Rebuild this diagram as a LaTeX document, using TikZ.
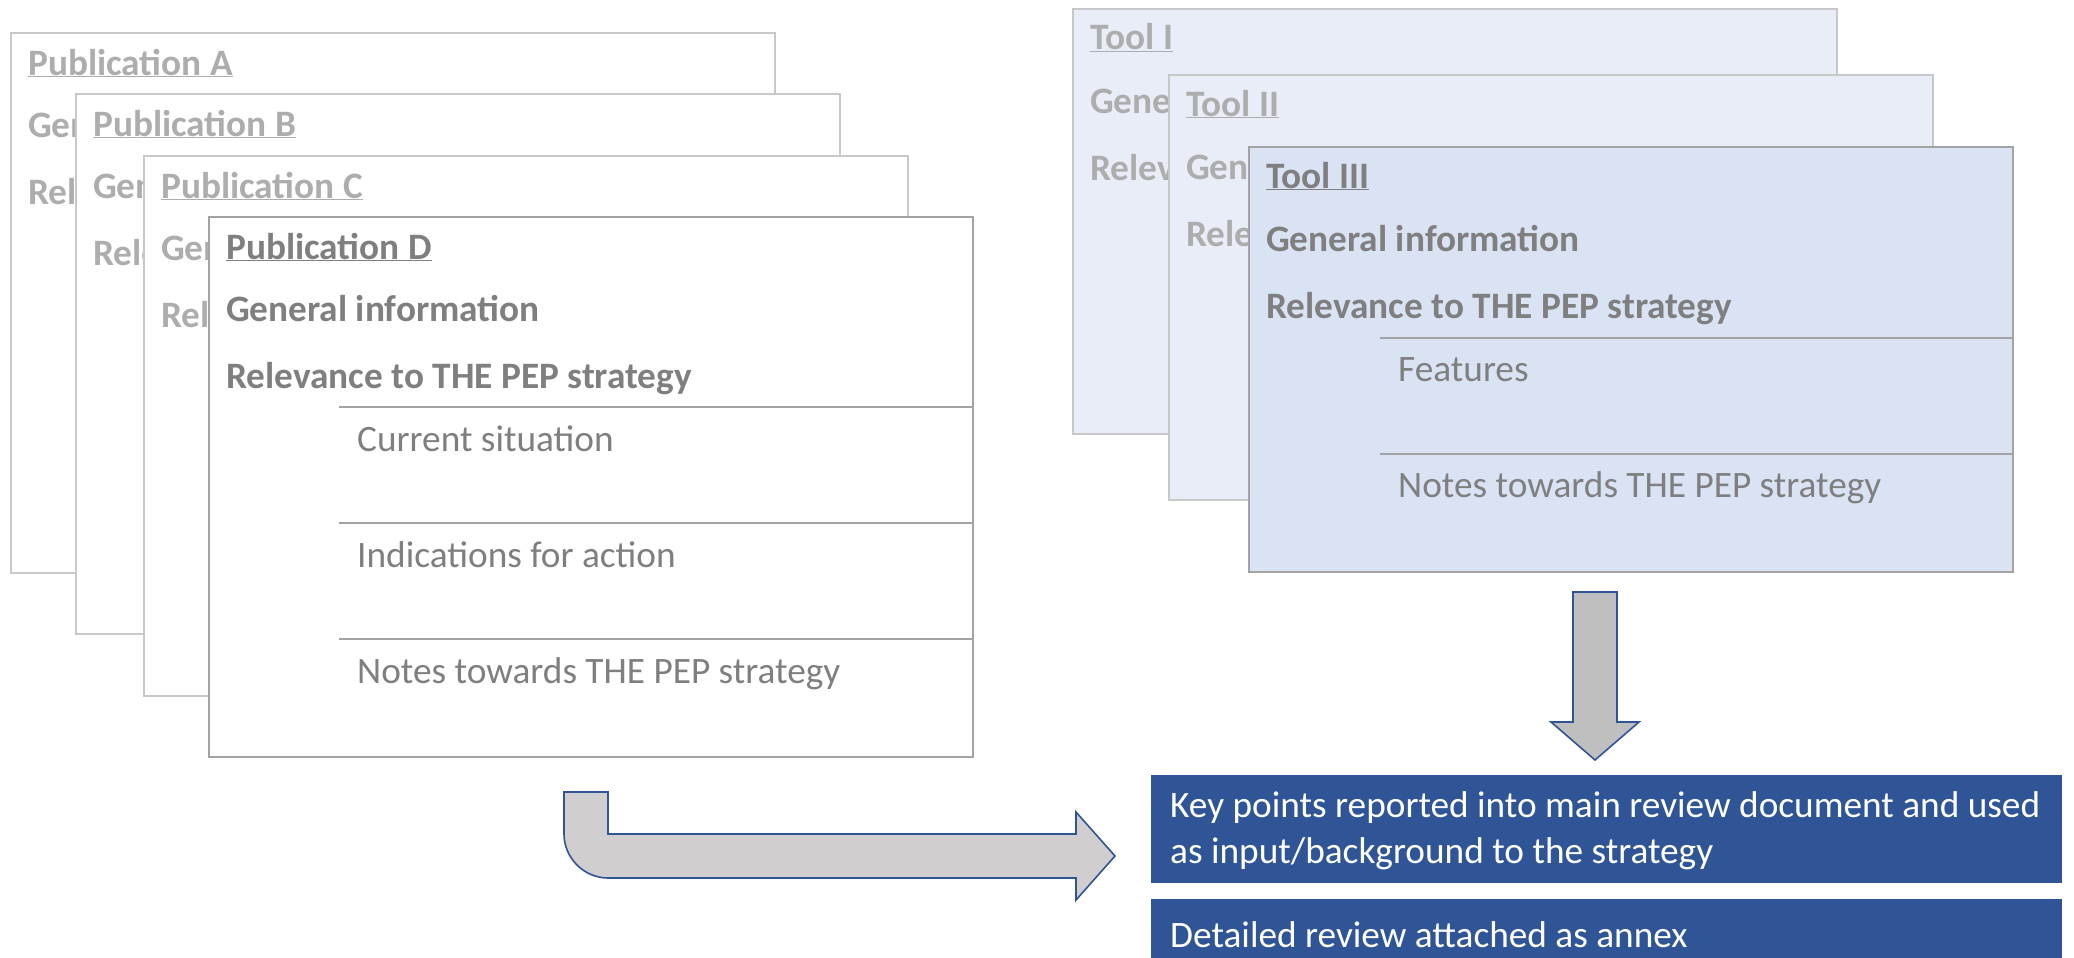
\documentclass[tikz,border=0pt]{standalone}
\usepackage{fontspec}
\setmainfont{Carlito}
\usetikzlibrary{positioning}

\definecolor{fadetext}{HTML}{ADADAD}
\definecolor{fronttext}{HTML}{7F7F7F}
\definecolor{fadeline}{HTML}{C8C8C8}
\definecolor{frontline}{HTML}{A3A3A3}
\definecolor{toolfade}{HTML}{E9EDF7}
\definecolor{toolfront}{HTML}{DAE3F3}
\definecolor{pepblue}{HTML}{2F5597}
\definecolor{bentgray}{HTML}{D0CECE}
\definecolor{downgray}{HTML}{BFBFBF}

\begin{document}
\begin{tikzpicture}[x=1pt, y=-1pt,
    card/.style={anchor=north west, draw, line width=1.6pt, inner sep=0pt, minimum width=764pt},
    head/.style={anchor=base west, inner sep=0pt, font=\fontsize{37.3}{42}\selectfont\bfseries},
    sub/.style={anchor=base west, inner sep=0pt, font=\fontsize{37.3}{42}\selectfont},
    blockarrow/.style={draw=pepblue, line width=1.6pt, line join=miter},
    bluebox/.style={anchor=north west, fill=pepblue, inner sep=0pt, minimum width=911pt},
    bluetext/.style={text=white, align=left, inner sep=0pt, font=\fontsize{37.3}{46}\selectfont}]

    \useasboundingbox (0,0) rectangle (2074,958);

    % Publication cards, back to front
    \foreach \id/\cx/\cy/\linecol/\textcol in {A/10/32/fadeline/fadetext, B/75/93/fadeline/fadetext, C/143/155/fadeline/fadetext, D/208/216/frontline/fronttext} {
        \begin{scope}[shift={(\cx,\cy)}]
            \node[card, draw=\linecol, fill=white, minimum height=540pt] (pub\id) at (0,0) {};
            \node[head, text=\textcol] (pub\id-title) at (18,43) {\underline{Publication \id}};
            \node[head, text=\textcol] (pub\id-info) at (18,105) {General information};
            \node[head, text=\textcol] (pub\id-rel) at (18,172) {Relevance to THE PEP strategy};
            \foreach \k/\txt in {0/Current situation, 1/Indications for action, 2/Notes towards THE PEP strategy} {
                \draw[draw=\linecol, line width=1.6pt] (131,191+116*\k) -- (764,191+116*\k);
                \node[sub, text=\textcol] (pub\id-sub\k) at (149,235+116*\k) {\txt};
            }
        \end{scope}
    }

    % Tool cards, back to front
    \foreach \id/\cx/\cy/\bg/\linecol/\textcol in {I/1072/8/toolfade/fadeline/fadetext, II/1168/74/toolfade/fadeline/fadetext, III/1248/146/toolfront/frontline/fronttext} {
        \begin{scope}[shift={(\cx,\cy)}]
            \node[card, draw=\linecol, fill=\bg, minimum height=425pt] (tool\id) at (0,0) {};
            \node[head, text=\textcol] (tool\id-title) at (18,42) {\underline{Tool \id}};
            \node[head, text=\textcol] (tool\id-info) at (18,105) {General information};
            \node[head, text=\textcol] (tool\id-rel) at (18,172) {Relevance to THE PEP strategy};
            \foreach \k/\txt in {0/Features, 1/Notes towards THE PEP strategy} {
                \draw[draw=\linecol, line width=1.6pt] (132,192+116*\k) -- (764,192+116*\k);
                \node[sub, text=\textcol] (tool\id-sub\k) at (150,235+116*\k) {\txt};
            }
        \end{scope}
    }

    % Output boxes
    \node[bluebox, minimum height=108pt] (keypts) at (1151,775) {};
    \node[bluetext, right=19pt of keypts.west, yshift=-2pt] (keypts-text) {Key points reported into main review document and used\\as input/background to the strategy};
    \node[bluebox, minimum height=70pt] (annex) at (1151,899) {};
    \node[bluetext, right=19pt of annex.west] (annex-text) {Detailed review attached as annex};

    % Block arrows
    \draw[blockarrow, fill=downgray] (1573,592) -- (1617,592) -- (1617,722) -- (1639,722)
        -- (1595,760) -- (1551,722) -- (1573,722) -- cycle;
    \draw[blockarrow, fill=bentgray] (564,792) -- (608,792) -- (608,834) -- (1076,834) -- (1076,812)
        -- (1115,856) -- (1076,900) -- (1076,878) -- (608,878)
        .. controls (584,878) and (564,858) .. (564,834) -- cycle;
\end{tikzpicture}
\end{document}
